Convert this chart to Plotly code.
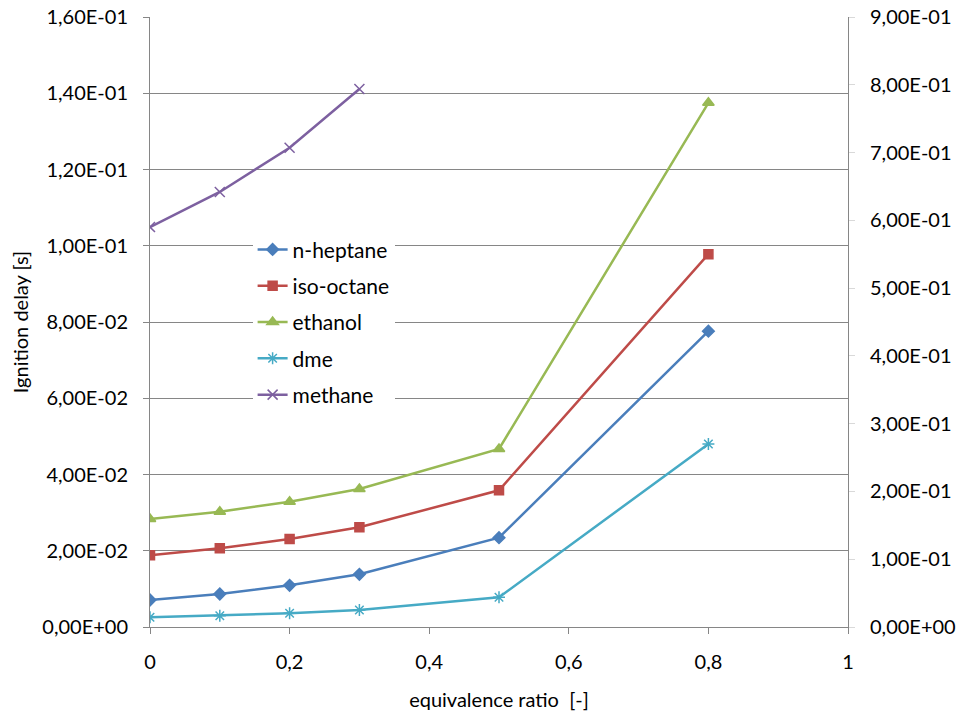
import plotly.graph_objects as go

phi = [0, 0.1, 0.2, 0.3, 0.5, 0.8]
phi_methane = [0, 0.1, 0.2, 0.3]

n_heptane = [0.00708, 0.00866, 0.01093, 0.01382, 0.02343, 0.0776]
iso_octane = [0.0188, 0.02064, 0.02308, 0.02615, 0.03585, 0.0978]
ethanol = [0.02833, 0.03025, 0.03287, 0.0362, 0.0467, 0.1375]
dme = [0.00254, 0.00297, 0.00359, 0.00446, 0.00779, 0.0480]
methane = [0.1049, 0.1141, 0.1257, 0.1411]

y_left_ticks = [0, 0.02, 0.04, 0.06, 0.08, 0.10, 0.12, 0.14, 0.16]
y_left_text = ["0,00E+00", "2,00E-02", "4,00E-02", "6,00E-02", "8,00E-02",
               "1,00E-01", "1,20E-01", "1,40E-01", "1,60E-01"]
y_right_ticks = [0, 0.1, 0.2, 0.3, 0.4, 0.5, 0.6, 0.7, 0.8, 0.9]
y_right_text = ["0,00E+00", "1,00E-01", "2,00E-01", "3,00E-01", "4,00E-01",
                "5,00E-01", "6,00E-01", "7,00E-01", "8,00E-01", "9,00E-01"]
x_ticks = [0, 0.2, 0.4, 0.6, 0.8, 1]
x_text = ["0", "0,2", "0,4", "0,6", "0,8", "1"]

FONT = "Lato"
fig = go.Figure()

series = [
    ("n-heptane", phi, n_heptane, "#4A7EBB", "diamond", 9),
    ("iso-octane", phi, iso_octane, "#BE4B48", "square", 9),
    ("ethanol", phi, ethanol, "#98B954", "triangle-up", 10),
    ("dme", phi, dme, "#46AAC5", "asterisk-open", 10),
    ("methane", phi_methane, methane, "#7D60A0", "x-thin-open", 10),
]
for name, xs, ys, col, sym, sz in series:
    fig.add_trace(go.Scatter(
        x=xs, y=ys, name=name, mode="lines+markers", legendgroup=name,
        line=dict(color=col, width=2.5),
        marker=dict(symbol=sym, size=sz, color=col, line=dict(color=col, width=1.5)),
    ))

# secondary axis carrier (no visible data)
fig.add_trace(go.Scatter(x=[None], y=[None], yaxis="y2", showlegend=False,
                         hoverinfo="skip", mode="lines"))

axis_col = "#868686"
fig.update_layout(
    width=957, height=716,
    margin=dict(l=150, r=109, t=17, b=89),
    paper_bgcolor="white", plot_bgcolor="white",
    font=dict(family=FONT, size=20, color="black"),
    showlegend=True,
    legend=dict(x=0.147, y=0.652, xanchor="left", yanchor="top",
                bgcolor="white", borderwidth=0, itemwidth=30,
                tracegroupgap=6,
                font=dict(family=FONT, size=21, color="black")),
    xaxis=dict(range=[0, 1], tickvals=x_ticks, ticktext=x_text,
               showgrid=False, zeroline=False, showline=True,
               linecolor=axis_col, linewidth=1, ticks="outside",
               ticklen=6, tickcolor=axis_col, automargin=False,
               ticklabelstandoff=11, ticklabeloverflow="allow",
               title=dict(text="equivalence ratio  [-]", standoff=20,
                          font=dict(family=FONT, size=20))),
    yaxis=dict(range=[0, 0.16], tickvals=y_left_ticks, ticktext=y_left_text,
               showgrid=True, gridcolor=axis_col, gridwidth=1,
               zeroline=False, showline=True, linecolor=axis_col,
               ticks="outside", ticklen=6, tickcolor=axis_col,
               automargin=False, ticklabelstandoff=11,
               ticklabeloverflow="allow",
               title=dict(text="Ignition delay [s]", standoff=8,
                          font=dict(family=FONT, size=20))),
    yaxis2=dict(range=[0, 0.9], tickvals=y_right_ticks, ticktext=y_right_text,
                overlaying="y", side="right", showgrid=False, zeroline=False,
                showline=True, linecolor=axis_col, ticks="outside",
                ticklen=6, tickcolor="#D9D9D9", automargin=False,
                ticklabelstandoff=11, ticklabeloverflow="allow"),
)

fig.write_html(
    "out.html",
    config={"displayModeBar": False},
    post_script="document.body.style.margin='0';document.body.style.overflow='hidden';",
)
